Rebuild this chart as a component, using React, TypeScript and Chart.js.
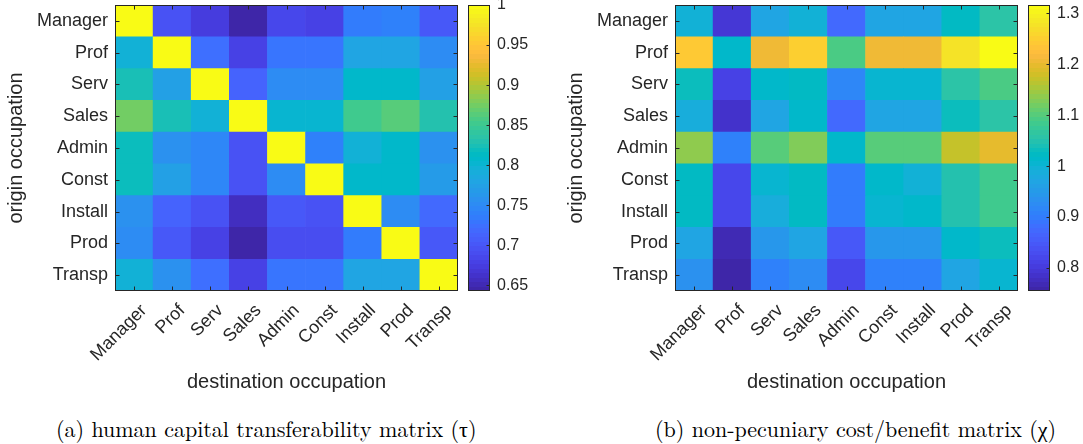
import React, { useEffect, useRef } from 'react';
import { Chart, registerables } from 'chart.js';

Chart.register(...registerables);

// ---------------- data ----------------
const destinations = ['Manager', 'Prof', 'Serv', 'Sales', 'Admin', 'Const', 'Install', 'Prod', 'Transp'];
const origins = ['Manager', 'Prof', 'Serv', 'Sales', 'Admin', 'Const', 'Install', 'Prod', 'Transp'];

// (a) human capital transferability matrix (tau), rows = origin, columns = destination
const tauManager = [1.0, 0.696, 0.674, 0.643, 0.683, 0.68, 0.735, 0.739, 0.7];
const tauProf = [0.796, 1.0, 0.726, 0.681, 0.728, 0.728, 0.778, 0.782, 0.749];
const tauServ = [0.825, 0.773, 1.0, 0.712, 0.753, 0.749, 0.805, 0.808, 0.773];
const tauSales = [0.875, 0.826, 0.798, 1.0, 0.803, 0.803, 0.852, 0.864, 0.828];
const tauAdmin = [0.816, 0.757, 0.746, 0.697, 1.0, 0.742, 0.796, 0.807, 0.76];
const tauConst = [0.817, 0.773, 0.746, 0.697, 0.749, 1.0, 0.807, 0.807, 0.766];
const tauInstall = [0.76, 0.715, 0.696, 0.656, 0.703, 0.696, 1.0, 0.753, 0.719];
const tauProd = [0.749, 0.7, 0.68, 0.648, 0.689, 0.689, 0.737, 1.0, 0.7];
const tauTransp = [0.796, 0.757, 0.726, 0.681, 0.728, 0.728, 0.782, 0.782, 1.0];

// (b) non-pecuniary cost/benefit matrix (chi)
const chiManager = [0.999, 0.794, 0.968, 0.999, 0.87, 0.968, 0.968, 1.019, 1.055];
const chiProf = [1.243, 1.01, 1.209, 1.246, 1.092, 1.209, 1.209, 1.277, 1.316];
const chiServ = [1.03, 0.814, 1.01, 1.021, 0.918, 1.002, 1.007, 1.055, 1.092];
const chiSales = [0.991, 0.789, 0.968, 1.01, 0.873, 0.968, 0.974, 1.027, 1.055];
const chiAdmin = [1.136, 0.909, 1.103, 1.128, 1.01, 1.103, 1.103, 1.17, 1.198];
const chiConst = [1.021, 0.817, 1.002, 1.021, 0.904, 1.01, 0.999, 1.052, 1.084];
const chiInstall = [1.024, 0.817, 0.985, 1.021, 0.904, 1.002, 1.01, 1.052, 1.084];
const chiProd = [0.971, 0.769, 0.94, 0.968, 0.845, 0.94, 0.94, 1.01, 1.027];
const chiTransp = [0.937, 0.755, 0.909, 0.929, 0.817, 0.909, 0.909, 0.968, 1.007];

const tauTicks = [0.65, 0.7, 0.75, 0.8, 0.85, 0.9, 0.95, 1];
const chiTicks = [0.8, 0.9, 1, 1.1, 1.2, 1.3];

const xTitle = 'destination occupation';
const yTitle = 'origin occupation';
const captionA = '(a) human capital transferability matrix (\u03C4)';
const captionB = '(b) non-pecuniary cost/benefit matrix (\u03C7)';

const tauMatrix = [tauManager, tauProf, tauServ, tauSales, tauAdmin, tauConst, tauInstall, tauProd, tauTransp];
const chiMatrix = [chiManager, chiProf, chiServ, chiSales, chiAdmin, chiConst, chiInstall, chiProd, chiTransp];

// ---------------- colormap (parula, 64) ----------------
const PARULA: number[][] = [
  [0.2422, 0.1504, 0.6603], [0.2504, 0.165, 0.7076], [0.2578, 0.1818, 0.7511], [0.2647, 0.1978, 0.7952],
  [0.2706, 0.2147, 0.8364], [0.2751, 0.2342, 0.871], [0.2783, 0.2559, 0.8991], [0.2803, 0.2782, 0.9221],
  [0.2813, 0.3006, 0.9414], [0.281, 0.3228, 0.9579], [0.2795, 0.3447, 0.9717], [0.276, 0.3667, 0.9829],
  [0.2699, 0.3892, 0.9906], [0.2602, 0.4123, 0.9952], [0.244, 0.4358, 0.9988], [0.2206, 0.4603, 0.9973],
  [0.1963, 0.4847, 0.9892], [0.1834, 0.5074, 0.9798], [0.1786, 0.5289, 0.9682], [0.1764, 0.5499, 0.952],
  [0.1687, 0.5703, 0.9359], [0.154, 0.5902, 0.9218], [0.146, 0.6091, 0.9079], [0.138, 0.6276, 0.8973],
  [0.1248, 0.6459, 0.8883], [0.1113, 0.6635, 0.8763], [0.0952, 0.6798, 0.8598], [0.0689, 0.6948, 0.8394],
  [0.0297, 0.7082, 0.8163], [0.0036, 0.7203, 0.7917], [0.0067, 0.7312, 0.766], [0.0433, 0.7411, 0.7394],
  [0.0964, 0.75, 0.712], [0.1408, 0.7584, 0.6842], [0.1717, 0.767, 0.6554], [0.1938, 0.7758, 0.6251],
  [0.2161, 0.7843, 0.5923], [0.247, 0.7918, 0.5567], [0.2906, 0.7973, 0.5188], [0.3406, 0.8008, 0.4789],
  [0.3909, 0.8029, 0.4354], [0.4456, 0.8024, 0.3909], [0.5044, 0.7993, 0.348], [0.5616, 0.7942, 0.3045],
  [0.6174, 0.7876, 0.2612], [0.672, 0.7793, 0.2227], [0.7242, 0.7698, 0.191], [0.7738, 0.7598, 0.1646],
  [0.8203, 0.7498, 0.1535], [0.8634, 0.7406, 0.1596], [0.9035, 0.733, 0.1774], [0.9393, 0.7288, 0.21],
  [0.9728, 0.7298, 0.2394], [0.9956, 0.7434, 0.2371], [0.997, 0.7659, 0.2199], [0.9952, 0.7893, 0.2028],
  [0.9892, 0.8136, 0.1885], [0.9786, 0.8386, 0.1766], [0.9676, 0.8639, 0.1643], [0.961, 0.889, 0.1537],
  [0.9597, 0.9135, 0.1423], [0.9628, 0.9373, 0.1265], [0.9691, 0.9606, 0.1064], [0.9769, 0.9839, 0.0805],
];
const cssOf = (c: number[]) => `rgb(${Math.round(c[0] * 255)},${Math.round(c[1] * 255)},${Math.round(c[2] * 255)})`;
const PARULA_CSS = PARULA.map(cssOf);

function colorFor(v: number, lo: number, hi: number) {
  let idx = Math.floor(((v - lo) / (hi - lo)) * 64);
  if (idx < 0) idx = 0;
  if (idx > 63) idx = 63;
  return PARULA_CSS[idx];
}

const SANS = "'Liberation Sans', Arial, Helvetica, sans-serif";
const SERIF = "'Latin Modern Roman', 'CMU Serif', 'Liberation Serif', 'Times New Roman', serif";
const INK = '#262626';

// draws the axes box and MATLAB-style inward tick marks
const framePlugin = {
  id: 'frame',
  afterDraw(chart: any, _args: any, opts: any) {
    const { ctx, chartArea: a } = chart;
    if (!a) return;
    ctx.save();
    ctx.strokeStyle = INK;
    ctx.lineWidth = 1;
    const L = opts.tickLen ?? 4;
    const l = Math.round(a.left) + 0.5;
    const r = Math.round(a.right) - 0.5;
    const t = Math.round(a.top) + 0.5;
    const b = Math.round(a.bottom) - 0.5;
    ctx.beginPath();
    if (opts.xTicks) {
      const xs = chart.scales.x;
      xs.ticks.forEach((_: any, i: number) => {
        const x = Math.round(xs.getPixelForTick(i)) + 0.5;
        ctx.moveTo(x, b); ctx.lineTo(x, b - L);
        ctx.moveTo(x, t); ctx.lineTo(x, t + L);
      });
    }
    if (opts.yTicks) {
      const ys = chart.scales.y;
      ys.ticks.forEach((_: any, i: number) => {
        const y = Math.round(ys.getPixelForTick(i)) + 0.5;
        if (!opts.rightOnly) { ctx.moveTo(l, y); ctx.lineTo(l + L, y); }
        ctx.moveTo(r, y); ctx.lineTo(r - L, y);
      });
    }
    ctx.stroke();
    ctx.strokeRect(l, t, r - l, b - t);
    ctx.restore();
  },
};

const zeroPad = (s: any) => {
  s.paddingTop = 0;
  s.paddingBottom = 0;
  s.paddingLeft = 0;
  s.paddingRight = 0;
};

function Heatmap({ matrix, left }: { matrix: number[][]; left: number }) {
  const ref = useRef<HTMLCanvasElement | null>(null);
  useEffect(() => {
    if (!ref.current) return;
    const all = matrix.flat();
    const lo = Math.min(...all);
    const hi = Math.max(...all);
    const n = origins.length;
    const datasets = origins.map((_, k) => {
      const row = matrix[n - 1 - k];
      return {
        data: destinations.map(() => 1),
        backgroundColor: row.map((v) => colorFor(v, lo, hi)),
        borderWidth: 0,
        barPercentage: 1,
        categoryPercentage: 1,
      };
    });
    const chart = new Chart(ref.current, {
      type: 'bar',
      data: { labels: destinations, datasets },
      plugins: [framePlugin],
      options: {
        responsive: false,
        animation: false,
        layout: { padding: { left: 0, right: 12, top: 5, bottom: 0 } },
        plugins: {
          legend: { display: false },
          tooltip: { enabled: false },
          frame: { xTicks: true, yTicks: true, tickLen: 4 },
        } as any,
        scales: {
          x: {
            type: 'category',
            stacked: true,
            offset: true,
            grid: { display: false, drawTicks: false },
            border: { display: false },
            ticks: {
              font: { family: SANS, size: 18 },
              color: INK,
              maxRotation: 45,
              minRotation: 45,
              autoSkip: false,
              padding: 9,
              labelOffset: 10,
            },
            title: {
              display: true,
              text: xTitle,
              font: { family: SANS, size: 20 },
              color: INK,
              padding: { top: 4, bottom: 4 },
            },
            afterFit: (s: any) => { s.height = 107; zeroPad(s); },
          },
          y: {
            type: 'linear',
            stacked: true,
            min: 0,
            max: n,
            grid: { display: false, drawTicks: false },
            border: { display: false },
            afterBuildTicks: (s: any) => {
              s.ticks = origins.map((_, i) => ({ value: i + 0.5 }));
            },
            ticks: {
              font: { family: SANS, size: 18 },
              color: INK,
              padding: 7,
              callback: (v: any) => origins[n - 1 - Math.floor(Number(v))],
            },
            title: {
              display: true,
              text: yTitle,
              font: { family: SANS, size: 20 },
              color: INK,
              padding: { top: 4, bottom: 4 },
            },
            afterFit: (s: any) => { s.width = 115; zeroPad(s); },
          },
        },
      } as any,
    });
    return () => chart.destroy();
  }, [matrix]);
  return (
    <canvas
      ref={ref}
      width={470}
      height={398}
      style={{ position: 'absolute', left, top: 0, width: 470, height: 398 }}
    />
  );
}

function Colorbar({ matrix, ticks, left, width, axisWidth }: { matrix: number[][]; ticks: number[]; left: number; width: number; axisWidth: number }) {
  const ref = useRef<HTMLCanvasElement | null>(null);
  useEffect(() => {
    if (!ref.current) return;
    const all = matrix.flat();
    const lo = Math.min(...all);
    const hi = Math.max(...all);
    const chart = new Chart(ref.current, {
      type: 'bar',
      data: {
        labels: [''],
        datasets: [{
          data: [[lo, hi]] as any,
          backgroundColor: (c: any) => {
            const a = c.chart.chartArea;
            if (!a) return PARULA_CSS[32];
            const g = c.chart.ctx.createLinearGradient(0, a.bottom, 0, a.top);
            PARULA_CSS.forEach((col, i) => {
              g.addColorStop(i / 64, col);
              g.addColorStop((i + 1) / 64, col);
            });
            return g;
          },
          borderWidth: 0,
          barPercentage: 1,
          categoryPercentage: 1,
        }],
      },
      plugins: [framePlugin],
      options: {
        responsive: false,
        animation: false,
        layout: { padding: { left: 8, right: 0, top: 5, bottom: 9 } },
        plugins: {
          legend: { display: false },
          tooltip: { enabled: false },
          frame: { xTicks: false, yTicks: true, rightOnly: true, tickLen: 3 },
        } as any,
        scales: {
          x: { display: false, offset: true },
          y: {
            position: 'right',
            min: lo,
            max: hi,
            grid: { display: false, drawTicks: false },
            border: { display: false },
            afterBuildTicks: (s: any) => {
              s.ticks = ticks.map((v) => ({ value: v }));
            },
            ticks: {
              font: { family: SANS, size: 16 },
              color: INK,
              padding: 7,
              callback: (v: any) => String(Number(Number(v).toFixed(2))),
            },
            afterFit: (s: any) => { s.width = axisWidth; zeroPad(s); },
          },
        },
      } as any,
    });
    return () => chart.destroy();
  }, [matrix, ticks]);
  return (
    <canvas
      ref={ref}
      width={width}
      height={300}
      style={{ position: 'absolute', left, top: 0, width, height: 300 }}
    />
  );
}

export default function App() {
  const cap: React.CSSProperties = {
    position: 'absolute',
    top: 417,
    fontFamily: SERIF,
    fontSize: 22,
    lineHeight: '22px',
    color: '#000',
    whiteSpace: 'nowrap',
  };
  return (
    <div style={{ position: 'absolute', left: 0, top: 0, width: 1083, height: 444, background: '#fff', overflow: 'hidden' }}>
      <Heatmap matrix={tauMatrix} left={0} />
      <Colorbar matrix={tauMatrix} ticks={tauTicks} left={460} width={80} axisWidth={50} />
      <Heatmap matrix={chiMatrix} left={560} />
      <Colorbar matrix={chiMatrix} ticks={chiTicks} left={1020} width={63} axisWidth={33} />
      <div style={{ ...cap, left: 56 }}>{captionA}</div>
      <div style={{ ...cap, left: 655 }}>{captionB}</div>
    </div>
  );
}
